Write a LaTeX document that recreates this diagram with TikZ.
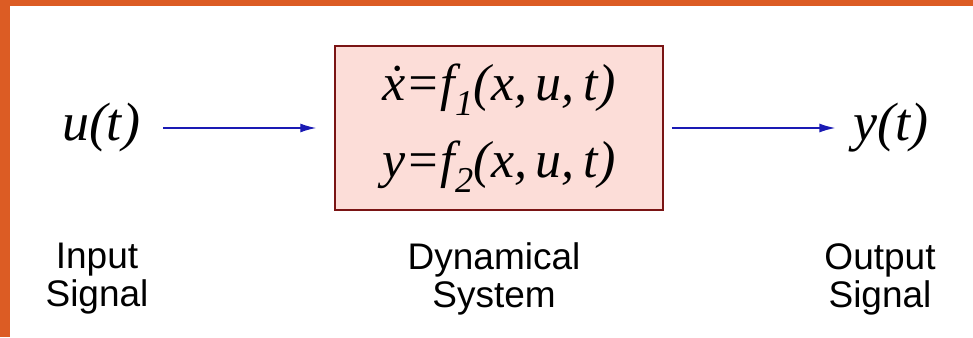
\documentclass[tikz,border=0pt]{standalone}
\usepackage{fontspec}
\setmainfont{Liberation Serif}
\newfontfamily\labelfont{Liberation Sans}
\usetikzlibrary{arrows.meta}
\definecolor{framecol}{HTML}{DC5C24}
\definecolor{boxfill}{HTML}{FCDDD8}
\definecolor{boxline}{HTML}{7A1414}
\definecolor{sigblue}{HTML}{1A1AB4}
\begin{document}
\begin{tikzpicture}[x=1pt, y=-1pt, every node/.style={inner sep=0pt}]
\useasboundingbox (0,0) rectangle (973,337);
% --- cornice ---
\fill[framecol] (0,0) rectangle (973,6);
\fill[framecol] (0,0) rectangle (10,337);
% --- schema a blocchi ---
\tikzset{
    sig/.style={draw=sigblue, line width=1.4pt, -{Latex[length=16pt, width=9pt]}},
    var/.style={font=\fontsize{54}{60}\selectfont\itshape},
    lbl/.style={align=center, font=\labelfont\fontsize{37}{38}\selectfont}
}
\node[var] (u) at (101,128) {u(t)};
\node[draw=boxline, line width=1.5pt, fill=boxfill, minimum width=328pt, minimum height=164pt,
      align=center, font=\fontsize{52}{77}\selectfont\itshape] (sys) at (499,128)
      {\.{x}=f\textsubscript{1}(x,\,u,\,t)\\ y=f\textsubscript{2}(x,\,u,\,t)};
\node[var] (y) at (891,128) {y(t)};
\draw[sig, shorten <=23pt, shorten >=18pt] (u) -- (sys);
\draw[sig, shorten <=8pt, shorten >=18pt] (sys) -- (y);
% --- didascalie ---
\node[lbl] (in) at (97,279) {Input\\Signal};
\node[lbl] (dyn) at (494,279) {Dynamical\\System};
\node[lbl] (out) at (880,279) {Output\\Signal};
\end{tikzpicture}
\end{document}
